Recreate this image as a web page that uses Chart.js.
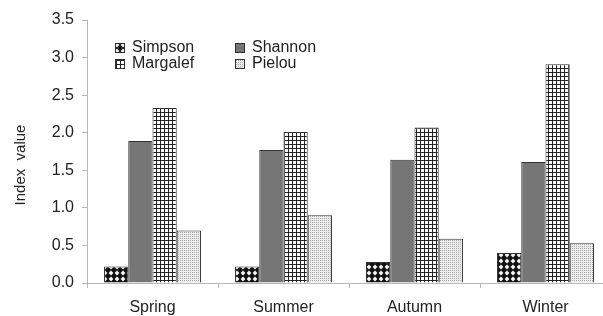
<!DOCTYPE html>
<html>
<head>
<meta charset="utf-8">
<script src="https://cdn.jsdelivr.net/npm/chart.js@4"></script>
<style>
  html, body { margin: 0; padding: 0; background: #fff; overflow: hidden; }
</style>
</head>
<body>
<canvas id="indexChart" width="620" height="316"></canvas>
<script>
const categories = ['Spring', 'Summer', 'Autumn', 'Winter'];
const simpson = [0.22, 0.22, 0.28, 0.40];
const shannon = [1.89, 1.77, 1.64, 1.61];
const margalef = [2.33, 2.01, 2.07, 2.91];
const pielou = [0.70, 0.90, 0.59, 0.53];
const yMax = 3.5;
const yStep = 0.5;

const fontFamily = '"Liberation Sans", Arial, sans-serif';

function makePattern(size, draw) {
    const c = document.createElement('canvas');
    c.width = size;
    c.height = size;
    draw(c.getContext('2d'), size);
    return c.getContext('2d').createPattern(c, 'repeat');
}

// black with white diamond holes
const simpsonFill = makePattern(6, (g, s) => {
    g.fillStyle = '#111';
    g.fillRect(0, 0, s, s);
    g.fillStyle = '#f4f4f4';
    g.beginPath();
    g.moveTo(3, 0.6);
    g.lineTo(5.4, 3);
    g.lineTo(3, 5.4);
    g.lineTo(0.6, 3);
    g.closePath();
    g.fill();
});
const shannonFill = '#767676';
// white with black square grid
const margalefFill = makePattern(4, (g, s) => {
    g.fillStyle = '#fff';
    g.fillRect(0, 0, s, s);
    g.fillStyle = '#222';
    g.fillRect(0, 0, s, 1);
    g.fillRect(0, 0, 1, s);
});
// light dotted
const pielouFill = makePattern(2, (g, s) => {
    g.fillStyle = '#ececec';
    g.fillRect(0, 0, s, s);
    g.fillStyle = '#a8a8a8';
    g.fillRect(0, 0, 1, 1);
});

const legendSpots = [[115, 43], [235, 43], [115, 59], [235, 59]];

const customLegend = {
    id: 'customLegend',
    afterDraw(chart) {
        const ctx = chart.ctx;
        ctx.save();
        ctx.font = '16px ' + fontFamily;
        ctx.textBaseline = 'middle';
        chart.data.datasets.forEach((ds, i) => {
            const [x, y] = legendSpots[i];
            ctx.fillStyle = ds.backgroundColor;
            ctx.fillRect(x, y, 10, 10);
            ctx.strokeStyle = '#333';
            ctx.lineWidth = 1;
            ctx.strokeRect(x + 0.5, y + 0.5, 9, 9);
            ctx.fillStyle = '#222';
            ctx.fillText(ds.label, x + 17, y + 5);
        });
        // y axis title
        ctx.font = '15px ' + fontFamily;
        ctx.translate(21, 165);
        ctx.rotate(-Math.PI / 2);
        ctx.textAlign = 'center';
        ctx.fillStyle = '#222';
        ctx.fillText('Index  value', 0, 0);
        ctx.restore();
    }
};

const barOpts = { borderColor: '#333', borderWidth: 1 };

new Chart(document.getElementById('indexChart'), {
    type: 'bar',
    data: {
        labels: categories,
        datasets: [
            { label: 'Simpson', data: simpson, backgroundColor: simpsonFill, ...barOpts },
            { label: 'Shannon', data: shannon, backgroundColor: shannonFill, ...barOpts },
            { label: 'Margalef', data: margalef, backgroundColor: margalefFill, ...barOpts },
            { label: 'Pielou', data: pielou, backgroundColor: pielouFill, ...barOpts }
        ]
    },
    options: {
        responsive: false,
        animation: false,
        layout: { padding: { top: 20, right: 9, left: 0, bottom: 0 } },
        datasets: { bar: { categoryPercentage: 0.74, barPercentage: 1.0 } },
        plugins: {
            legend: { display: false },
            tooltip: { enabled: false }
        },
        scales: {
            x: {
                grid: { offset: true, drawOnChartArea: false, tickLength: 5, color: '#b8b8b8' },
                border: { color: '#b8b8b8' },
                ticks: { color: '#222', font: { size: 16, family: fontFamily }, padding: 10 },
                afterFit(scale) { scale.height = 33; }
            },
            y: {
                min: 0,
                max: yMax,
                grid: { drawOnChartArea: false, tickLength: 5, color: '#b8b8b8' },
                border: { color: '#b8b8b8' },
                ticks: {
                    stepSize: yStep,
                    color: '#222',
                    padding: 8,
                    font: { size: 16, family: fontFamily },
                    callback: v => v.toFixed(1)
                },
                afterFit(scale) { scale.width = 87; }
            }
        }
    },
    plugins: [customLegend]
});
</script>
</body>
</html>
